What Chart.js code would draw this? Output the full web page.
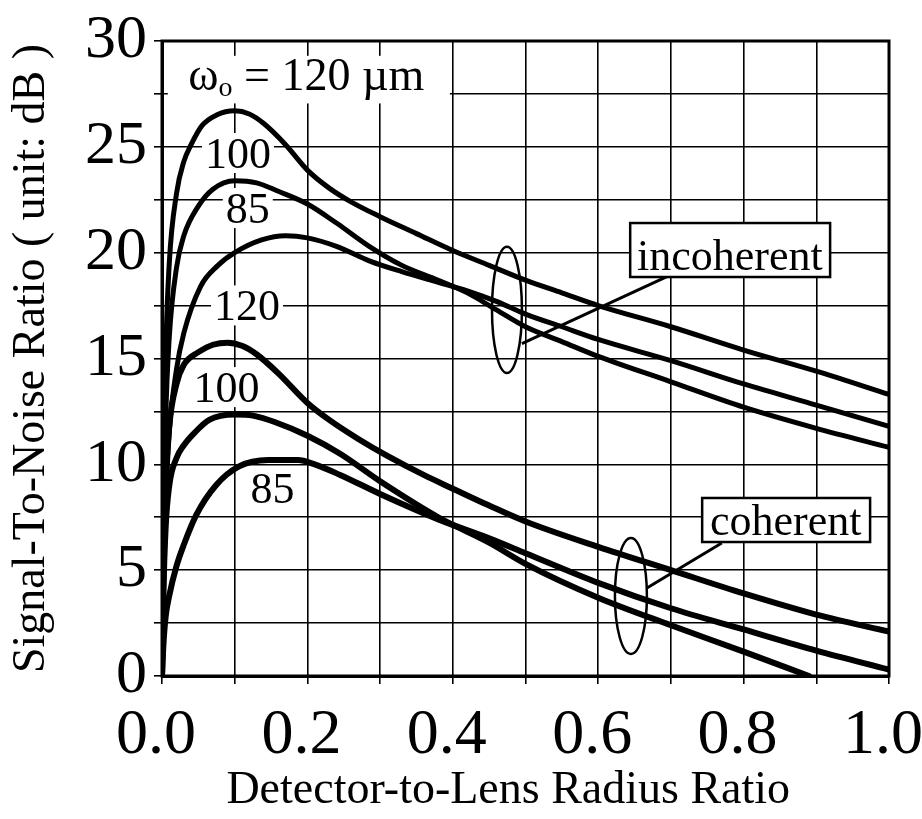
<!DOCTYPE html>
<html>
<head>
<meta charset="utf-8">
<script src="https://cdn.jsdelivr.net/npm/chart.js@4.4.1/dist/chart.umd.min.js"></script>
<style>
html,body{margin:0;padding:0;background:#fff;}
canvas{display:block;}
</style>
</head>
<body>
<canvas id="c" width="922" height="819"></canvas>
<script>
// ---------------- data ----------------
// incoherent detection, beam waist 120 um
const incX120 = [0, 0.002, 0.005, 0.01, 0.02, 0.03, 0.04, 0.055, 0.075, 0.1, 0.12, 0.14, 0.17, 0.2, 0.23, 0.26, 0.3, 0.35, 0.4, 0.45, 0.5, 0.55, 0.6, 0.7, 0.8, 0.9, 1.0];
const incY120 = [0, 8, 15, 19.5, 22.8, 24.3, 25.1, 26.0, 26.5, 26.7, 26.55, 26.1, 25.1, 23.9, 23.05, 22.4, 21.7, 20.9, 20.1, 19.4, 18.7, 18.1, 17.5, 16.5, 15.4, 14.4, 13.3];
// incoherent, 100 um
const incX100 = [0, 0.002, 0.005, 0.01, 0.02, 0.03, 0.05, 0.07, 0.1, 0.13, 0.16, 0.2, 0.24, 0.285, 0.33, 0.38, 0.42, 0.46, 0.5, 0.55, 0.6, 0.7, 0.8, 0.9, 1.0];
const incY100 = [0, 6, 12, 16, 19.3, 20.8, 22.2, 23.0, 23.4, 23.3, 22.9, 22.3, 21.4, 20.3, 19.4, 18.7, 18.1, 17.3, 16.5, 15.8, 15.1, 13.9, 12.7, 11.7, 10.8];
// incoherent, 85 um
const incX85 = [0, 0.002, 0.005, 0.01, 0.02, 0.03, 0.053, 0.077, 0.1, 0.137, 0.17, 0.2, 0.24, 0.286, 0.33, 0.38, 0.42, 0.46, 0.5, 0.55, 0.6, 0.7, 0.8, 0.9, 1.0];
const incY85 = [0, 4, 8, 11.5, 14.5, 16.2, 18.4, 19.4, 20.0, 20.6, 20.8, 20.7, 20.3, 19.6, 19.1, 18.6, 18.2, 17.7, 17.1, 16.5, 15.9, 14.9, 13.8, 12.8, 11.8];
// coherent detection, 120 um
const cohX120 = [0, 0.002, 0.005, 0.01, 0.02, 0.03, 0.05, 0.07, 0.09, 0.11, 0.13, 0.16, 0.2, 0.23, 0.27, 0.31, 0.36, 0.4, 0.45, 0.5, 0.6, 0.7, 0.8, 0.9, 1.0];
const cohY120 = [0, 5, 9, 11.8, 13.8, 14.7, 15.3, 15.65, 15.75, 15.6, 15.2, 14.3, 12.9, 12.1, 11.2, 10.4, 9.5, 8.85, 8.05, 7.3, 6.1, 5.0, 3.9, 2.9, 2.1];
// coherent, 100 um
const cohX100 = [0, 0.002, 0.005, 0.01, 0.02, 0.03, 0.045, 0.065, 0.1, 0.125, 0.155, 0.2, 0.245, 0.3, 0.38, 0.45, 0.5, 0.6, 0.7, 0.8, 0.89];
const cohY100 = [0, 4, 7, 9, 10.3, 10.9, 11.5, 12.1, 12.35, 12.3, 12.0, 11.35, 10.5, 9.2, 7.5, 6.3, 5.3, 3.7, 2.4, 1.15, 0];
// coherent, 85 um
const cohX85 = [0, 0.002, 0.005, 0.01, 0.02, 0.03, 0.047, 0.074, 0.106, 0.146, 0.187, 0.21, 0.245, 0.3, 0.38, 0.45, 0.5, 0.6, 0.7, 0.8, 0.9, 1.0];
const cohY85 = [0, 1.5, 2.8, 3.8, 5.2, 6.2, 7.6, 9.0, 9.9, 10.2, 10.2, 10.0, 9.5, 8.6, 7.4, 6.5, 5.8, 4.4, 3.2, 2.2, 1.2, 0.3];

// axis ticks
const xTickLabels = ['0.0', '0.2', '0.4', '0.6', '0.8', '1.0'];
const yTickLabels = ['0', '5', '10', '15', '20', '25', '30'];
const xTitle = 'Detector-to-Lens Radius Ratio';
const yTitle = 'Signal-To-Noise Ratio ( unit: dB )';

// ---------------- annotations (in data units) ----------------
const FAM = "'Liberation Serif', 'Times New Roman', Times, serif";
const curveLabels = [
  {text: '100', x: 0.1045, y: 24.0},
  {text: '85',  x: 0.118,  y: 21.4},
  {text: '120', x: 0.117,  y: 16.8},
  {text: '100', x: 0.0887, y: 12.94},
  {text: '85',  x: 0.152,  y: 8.17}
];
const omegaLabel = {x: 0.036, y: 27.68, box: [0.008, 0.396, 27.05, 29.3]};
const groupBoxes = [
  {text: 'incoherent', box: [0.644, 0.919, 18.85, 21.4], tx: 0.781, ty: 19.18,
   pointer: [0.699, 18.94, 0.495, 15.7], ellipse: [0.4745, 17.3, 0.0206, 2.98]},
  {text: 'coherent', box: [0.743, 0.974, 6.33, 8.41], tx: 0.858, ty: 6.66,
   pointer: [0.770, 6.28, 0.667, 4.16], ellipse: [0.645, 3.78, 0.022, 2.74]}
];

function pts(xs, ys) { return xs.map((v, i) => ({x: v, y: ys[i]})); }
const series = [
  {label: 'incoherent 120 µm', d: pts(incX120, incY120), w: 5},
  {label: 'incoherent 100 µm', d: pts(incX100, incY100), w: 5},
  {label: 'incoherent 85 µm',  d: pts(incX85, incY85),  w: 5},
  {label: 'coherent 120 µm',   d: pts(cohX120, cohY120), w: 6},
  {label: 'coherent 100 µm',   d: pts(cohX100, cohY100), w: 6},
  {label: 'coherent 85 µm',    d: pts(cohX85, cohY85),   w: 6}
];

const annot = {
  id: 'annot',
  beforeDatasetsDraw(chart) {
    const {ctx, scales: {x, y}} = chart;
    ctx.save();
    // omega label
    const b = omegaLabel.box;
    ctx.fillStyle = '#fff';
    ctx.fillRect(x.getPixelForValue(b[0]), y.getPixelForValue(b[3]),
      x.getPixelForValue(b[1]) - x.getPixelForValue(b[0]),
      y.getPixelForValue(b[2]) - y.getPixelForValue(b[3]));
    let px = x.getPixelForValue(omegaLabel.x), py = y.getPixelForValue(omegaLabel.y);
    ctx.fillStyle = '#000';
    ctx.textAlign = 'left';
    ctx.textBaseline = 'alphabetic';
    ctx.font = '46px ' + FAM;
    ctx.fillText('ω', px, py);
    px += ctx.measureText('ω').width;
    ctx.font = '28px ' + FAM;
    ctx.fillText('o', px, py + 6);
    px += ctx.measureText('o').width;
    ctx.font = '46px ' + FAM;
    ctx.fillText(' = 120 µm', px, py);
    // curve labels
    ctx.font = '44px ' + FAM;
    ctx.textAlign = 'center';
    curveLabels.forEach(l => {
      const lx = x.getPixelForValue(l.x), ly = y.getPixelForValue(l.y);
      const w = ctx.measureText(l.text).width;
      ctx.fillStyle = '#fff';
      ctx.fillRect(lx - w / 2 - 3, ly - 35, w + 6, 40);
      ctx.fillStyle = '#000';
      ctx.fillText(l.text, lx, ly);
    });
    ctx.restore();
  },
  afterDatasetsDraw(chart) {
    const {ctx, chartArea: ca, scales: {x, y}} = chart;
    ctx.save();
    ctx.strokeStyle = '#000';
    groupBoxes.forEach(g => {
      // ellipse
      const e = g.ellipse;
      const cx = x.getPixelForValue(e[0]), cy = y.getPixelForValue(e[1]);
      const rx = x.getPixelForValue(e[0] + e[2]) - cx, ry = cy - y.getPixelForValue(e[1] + e[3]);
      ctx.lineWidth = 2.5;
      ctx.beginPath();
      ctx.ellipse(cx, cy, rx, ry, 0, 0, Math.PI * 2);
      ctx.stroke();
      // pointer
      const p = g.pointer;
      ctx.lineWidth = 3;
      ctx.beginPath();
      ctx.moveTo(x.getPixelForValue(p[0]), y.getPixelForValue(p[1]));
      ctx.lineTo(x.getPixelForValue(p[2]), y.getPixelForValue(p[3]));
      ctx.stroke();
      // box
      const bx0 = x.getPixelForValue(g.box[0]), bx1 = x.getPixelForValue(g.box[1]);
      const by0 = y.getPixelForValue(g.box[3]), by1 = y.getPixelForValue(g.box[2]);
      ctx.fillStyle = '#fff';
      ctx.fillRect(bx0, by0, bx1 - bx0, by1 - by0);
      ctx.lineWidth = 2.5;
      ctx.strokeRect(bx0, by0, bx1 - bx0, by1 - by0);
      ctx.fillStyle = '#000';
      ctx.font = '44px ' + FAM;
      ctx.textAlign = 'center';
      ctx.textBaseline = 'alphabetic';
      ctx.fillText(g.text, x.getPixelForValue(g.tx), y.getPixelForValue(g.ty));
    });
    // plot frame
    ctx.lineWidth = 3;
    ctx.strokeRect(ca.left, ca.top, ca.right - ca.left, ca.bottom - ca.top);
    ctx.restore();
  }
};

Chart.defaults.font.family = FAM;
Chart.defaults.color = '#000';

new Chart(document.getElementById('c'), {
  type: 'line',
  data: {
    datasets: series.map(s => ({
      label: s.label,
      data: s.d,
      borderColor: '#000',
      borderWidth: s.w,
      pointRadius: 0,
      fill: false,
      cubicInterpolationMode: 'monotone',
      borderJoinStyle: 'round',
      borderCapStyle: 'round'
    }))
  },
  options: {
    responsive: false,
    animation: false,
    events: [],
    layout: {padding: {top: 41, right: 33, left: 0, bottom: 0}},
    plugins: {legend: {display: false}, tooltip: {enabled: false}},
    scales: {
      x: {
        type: 'linear', min: 0, max: 1,
        grid: {color: '#000', lineWidth: 1.6, tickLength: 8, tickWidth: 1.6, tickColor: '#000'},
        border: {display: true, color: '#000', width: 3},
        ticks: {
          stepSize: 0.1, autoSkip: false, maxRotation: 0, minRotation: 0,
          padding: 14, labelOffset: -6,
          font: {size: 64, family: FAM},
          callback: v => {
            const k = Math.round(v * 10);
            return k % 2 === 0 ? xTickLabels[k / 2] : '';
          }
        },
        title: {display: true, text: xTitle + '   ', font: {size: 46, family: FAM}, padding: {top: 0, bottom: 0}},
        afterFit: s => { s.height = 819 - 676; s.paddingLeft = 0; s.paddingRight = 0; }
      },
      y: {
        type: 'linear', min: 0, max: 30,
        grid: {color: '#000', lineWidth: 1.6, tickLength: 8, tickWidth: 1.6, tickColor: '#000'},
        border: {display: true, color: '#000', width: 3},
        ticks: {
          stepSize: 2.5, autoSkip: false, padding: 7,
          font: {size: 62, family: FAM},
          callback: v => {
            const k = Math.round(v / 2.5);
            return k % 2 === 0 ? yTickLabels[k / 2] : '';
          }
        },
        title: {display: true, text: yTitle, font: {size: 46, family: FAM}, padding: {top: 4, bottom: 0}},
        afterFit: s => { s.width = 162; s.paddingTop = 0; s.paddingBottom = 0; }
      }
    }
  },
  plugins: [annot]
});
</script>
</body>
</html>
